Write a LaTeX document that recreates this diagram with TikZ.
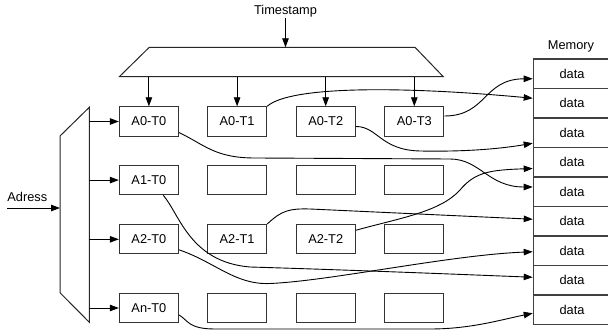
\documentclass[tikz,border=0pt]{standalone}
\usepackage{fontspec}
\setmainfont{Liberation Sans}
\usetikzlibrary{arrows.meta,calc}
\begin{document}
\begin{tikzpicture}[x=1pt,y=-1pt,
  lbl/.style={font=\fontsize{12.8}{15}\selectfont, inner sep=0pt},
  cell/.style={draw=black!80, line width=1.1pt, minimum width=59pt, minimum height=29.3pt, inner sep=0pt, lbl},
  mem/.style={draw=black!75, line width=1.3pt, minimum width=77.3pt, minimum height=29.5pt, inner sep=0pt, anchor=west, lbl},
  arr/.style={-{Triangle[length=9pt,width=6.5pt]}, line width=0.9pt},
  wire/.style={arr},
  shp/.style={draw=black!85, line width=1pt}]
\useasboundingbox (0,0) rectangle (608,331);
\clip (0,0) rectangle (608,331);

% register cells
\node[cell] (a00) at (148.9,121.5) {A0-T0};
\node[cell] (a01) at (237.1,121.5) {A0-T1};
\node[cell] (a02) at (325.7,121.5) {A0-T2};
\node[cell] (a03) at (414.3,121.5) {A0-T3};
\node[cell] (a10) at (148.9,180.1) {A1-T0};
\node[cell] (a11) at (237.1,180.1) {};
\node[cell] (a12) at (325.7,180.1) {};
\node[cell] (a13) at (414.3,180.1) {};
\node[cell] (a20) at (148.9,239.3) {A2-T0};
\node[cell] (a21) at (237.1,239.3) {A2-T1};
\node[cell] (a22) at (325.7,239.3) {A2-T2};
\node[cell] (a23) at (414.3,239.3) {};
\node[cell] (an0) at (148.9,308) {An-T0};
\node[cell] (an1) at (237.1,308) {};
\node[cell] (an2) at (325.7,308) {};
\node[cell] (an3) at (414.3,308) {};

% memory
\node[lbl,anchor=base] (memlbl) at (571,49.2) {Memory};
\node[mem] (m0) at (532.7,73.75) {data};
\node[mem] (m1) at (532.7,103.25) {data};
\node[mem] (m2) at (532.7,132.75) {data};
\node[mem] (m3) at (532.7,162.25) {data};
\node[mem] (m4) at (532.7,191.75) {data};
\node[mem] (m5) at (532.7,221.25) {data};
\node[mem] (m6) at (532.7,250.75) {data};
\node[mem] (m7) at (532.7,280.25) {data};
\node[mem] (m8) at (532.7,309.75) {data};

% timestamp demux
\node[lbl,anchor=base] (ts) at (285.5,14.3) {Timestamp};
\draw[shp] (149.3,47.3) -- (415,47.3) -- (443.3,76.7) -- (119.3,76.7) -- cycle;
\coordinate (tsin) at (285.5,47.3);
\coordinate (tp0) at (148.9,76.7);
\coordinate (tp1) at (237.1,76.7);
\coordinate (tp2) at (325.7,76.7);
\coordinate (tp3) at (414.3,76.7);
\draw[arr] ([yshift=-1pt]ts.south) -- (tsin);
\draw[arr] (tp0) -- (a00.north);
\draw[arr] (tp1) -- (a01.north);
\draw[arr] (tp2) -- (a02.north);
\draw[arr] (tp3) -- (a03.north);

% address demux
\draw[shp] (60,136) -- (89.3,107.3) -- (89.3,322.3) -- (60,292.7) -- cycle;
\node[lbl,anchor=base] (adr) at (27.3,201.7) {Adress};
\coordinate (adrin) at (7.3,208);
\coordinate (muxin) at (60,208);
\draw[arr] (adrin) -- (muxin);
\coordinate (mo0) at (89.3,121.5);
\coordinate (mo1) at (89.3,180.1);
\coordinate (mo2) at (89.3,239.3);
\coordinate (mo3) at (89.3,308);
\draw[arr] (mo0) -- (a00.west);
\draw[arr] (mo1) -- (a10.west);
\draw[arr] (mo2) -- (a20.west);
\draw[arr] (mo3) -- (an0.west);

% wires to memory
\draw[wire] (a01.north east) .. controls (290,86) and (400,86) .. ([yshift=5pt]m1.west);
\draw[wire] ([yshift=5.5pt]a03.east) .. controls (487,116) and (483,79) .. ([yshift=-5pt]m0.west);
\draw[wire] ([yshift=-5pt]a02.east) .. controls (378,126.5) and (380,150) .. (420,151) .. controls (470,152) and (505,148) .. ([yshift=-10.5pt]m2.west);
\draw[wire] ([yshift=-11pt]a00.east) .. controls (205,145) and (215,158) .. (255,158) -- (450,159) .. controls (480,159) and (488,187) .. ([yshift=4.75pt]m4.west);
\draw[wire] ([yshift=9pt]a22.east) .. controls (400,218) and (440,212) .. (460,190) .. controls (475,172) and (490,170) .. ([yshift=-6.25pt]m3.west);
\draw[wire] (a21.north east) .. controls (282,210) and (290,208.5) .. (310,209) -- ([yshift=2pt]m5.west);
\draw[wire] ([yshift=-10.5pt]a20.east) .. controls (215,262) and (235,285) .. (270,283.5) .. controls (330,281) and (450,255) .. ([yshift=-1pt]m6.west);
\draw[wire] ([xshift=14.4pt]a10.south) .. controls (180,215) and (190,262) .. (250,267) .. controls (350,270) and (450,274) .. ([yshift=3pt]m7.west);
\draw[wire] ([yshift=-7pt]an0.east) .. controls (188,320) and (188,329) .. (215,329) -- (430,329) .. controls (470,329) and (500,320) .. ([yshift=-3.5pt]m8.west);
\end{tikzpicture}
\end{document}
